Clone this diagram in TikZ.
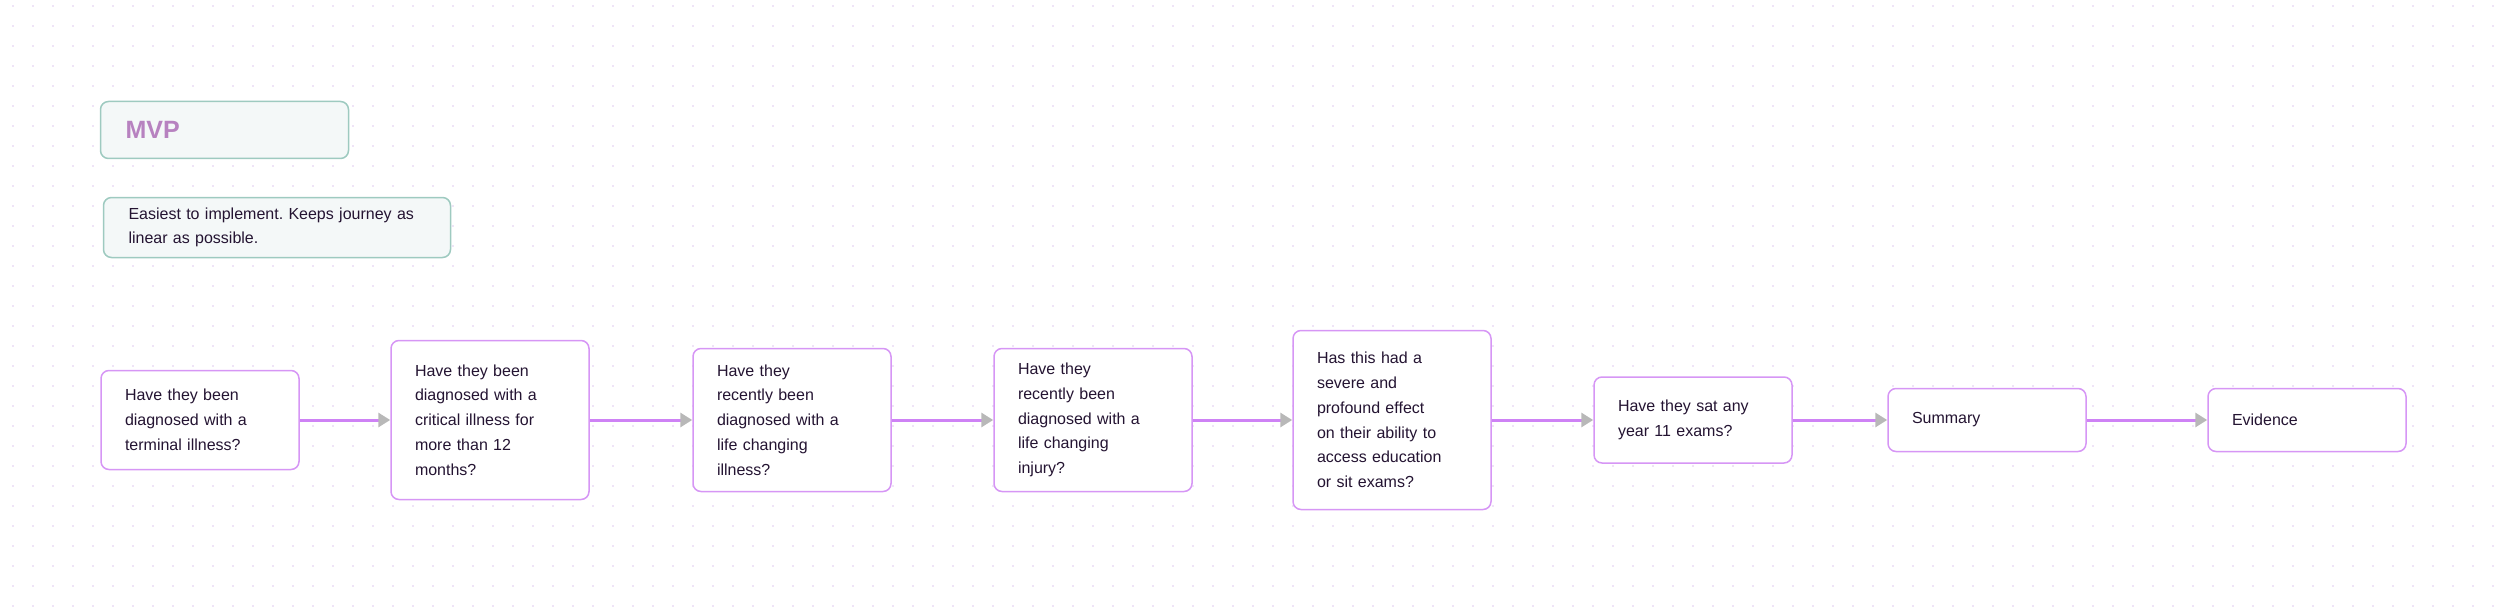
\documentclass[tikz,border=0pt]{standalone}
\usepackage{fontspec}
\setmainfont{Liberation Sans}
\usetikzlibrary{arrows.meta}
\frenchspacing

\definecolor{qborder}{RGB}{214,150,245}
\definecolor{linkpurple}{RGB}{206,130,245}
\definecolor{tipgrey}{RGB}{184,184,184}
\definecolor{notegreen}{RGB}{158,202,192}
\definecolor{notefill}{RGB}{244,248,248}
\definecolor{inkdark}{RGB}{36,20,50}
\definecolor{mvppurple}{RGB}{183,130,192}
\definecolor{griddot}{RGB}{222,200,238}

\tikzset{
  question/.style={draw=qborder, line width=0.75pt, fill=white, rounded corners=4pt,
    text width=75pt, inner xsep=12pt, align=left, text=inkdark,
    font=\fontsize{8}{12.4}\selectfont},
  note/.style={draw=notegreen, line width=0.75pt, fill=notefill, rounded corners=4pt,
    inner xsep=12.5pt, align=left},
  link/.style={draw=linkpurple, line width=1.5pt,
    -{Triangle[length=6pt, width=7pt, color=tipgrey]}}
}

\begin{document}
\begin{tikzpicture}[x=0.5pt, y=-0.5pt]
\useasboundingbox (0,0) rectangle (2507,610);
% dotted canvas
\foreach \j in {0,...,30} {
  \fill[griddot] \foreach \i in {0,...,124} {(13+20*\i,6+20*\j) circle (0.45pt)};
}

% heading and remark
\node[note, text width=99pt, minimum height=28.5pt, text=mvppurple,
  font=\fontsize{12.5}{15}\selectfont\bfseries] (mvp) at (224.5,130) {MVP};
\node[note, text width=148.5pt, minimum height=30pt, text=inkdark,
  font=\fontsize{8}{12}\selectfont] (remark) at (277,227.5)
  {Easiest to implement. Keeps journey as\\linear as possible.};

% journey
\node[question, minimum height=49.5pt] (terminal) at (200,420)
  {Have they been\\diagnosed with a\\terminal illness?};
\node[question, minimum height=79.5pt] (critical) at (490,420)
  {Have they been\\diagnosed with a\\critical illness for\\more than 12\\months?};
\node[question, minimum height=71.5pt] (lifeillness) at (792,420)
  {Have they\\recently been\\diagnosed with a\\life changing\\illness?};
\node[question, minimum height=71.5pt] (lifeinjury) at (1093,420)
  {Have they\\recently been\\diagnosed with a\\life changing\\injury?};
\node[question, minimum height=89.5pt] (effect) at (1392,420)
  {Has this had a\\severe and\\profound effect\\on their ability to\\access education\\or sit exams?};
\node[question, minimum height=43pt] (exams) at (1693,420)
  {Have they sat any\\year 11 exams?};
\node[question, minimum height=31.5pt] (summary) at (1987,420) {Summary};
\node[question, minimum height=31.5pt] (evidence) at (2307,420) {Evidence};

\draw[link] (terminal) -- (critical);
\draw[link] (critical) -- (lifeillness);
\draw[link] (lifeillness) -- (lifeinjury);
\draw[link] (lifeinjury) -- (effect);
\draw[link] (effect) -- (exams);
\draw[link] (exams) -- (summary);
\draw[link] (summary) -- (evidence);
\end{tikzpicture}
\end{document}
